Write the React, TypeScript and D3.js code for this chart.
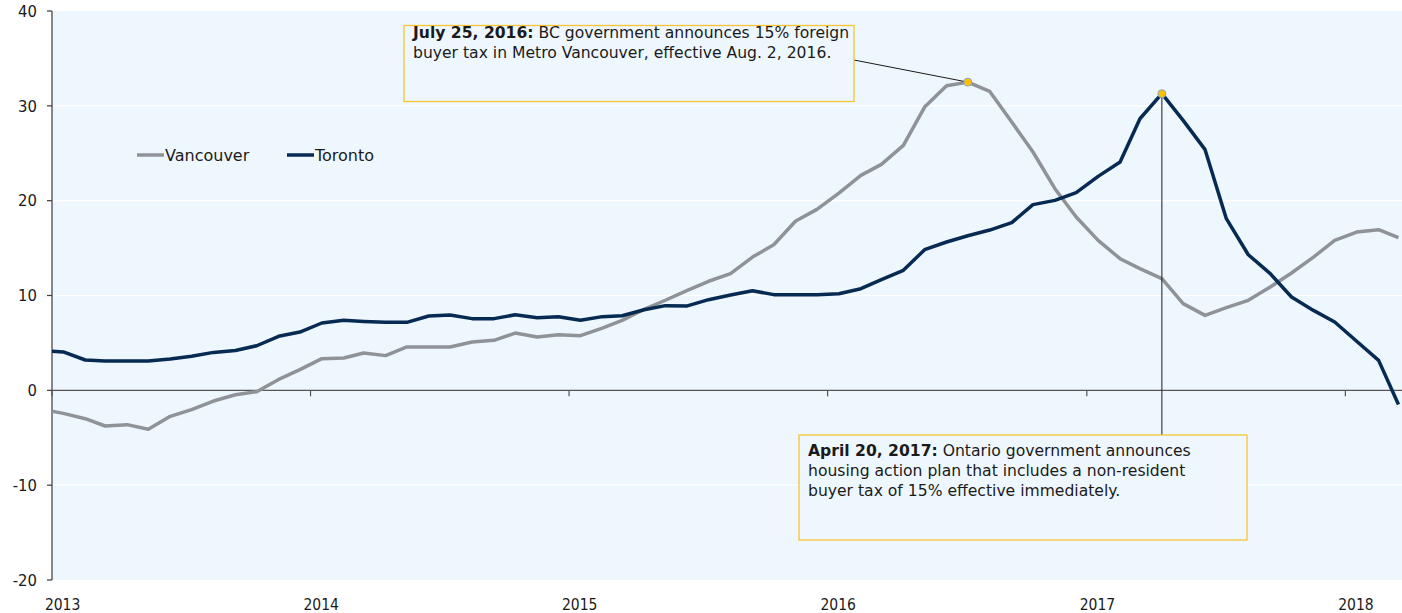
import React, { useRef, useEffect } from 'react';
import * as d3 from 'd3';

// monthly points, Dec 2012 .. Mar 2018 (placed mid-month)
const months = d3.timeMonths(new Date(2012, 11, 1), new Date(2018, 3, 1))
  .map(d => new Date(d.getFullYear(), d.getMonth(), 17));

const vancouver = [
  -2.0, -2.43, -2.99, -3.76, -3.62, -4.11, -2.74, -2.04, -1.13, -0.46, -0.14, 1.15, 2.18,
  3.34, 3.41, 3.94, 3.66, 4.57, 4.57, 4.57, 5.1, 5.27, 6.04, 5.62, 5.87,
  5.76, 6.57, 7.38, 8.55, 9.5, 10.55, 11.5, 12.3, 14.05, 15.35, 17.85, 19.08,
  20.8, 22.67, 23.83, 25.83, 29.87, 32.12, 32.5, 31.52, 28.29, 25.13, 21.26, 18.27,
  15.81, 13.88, 12.83, 11.78, 9.14, 7.9, 8.72, 9.49, 10.9, 12.37, 14.05, 15.81,
  16.69, 16.94, 16.1
];

const toronto = [
  4.2, 4.05, 3.2, 3.1, 3.1, 3.1, 3.3, 3.6, 4.0, 4.2, 4.7, 5.7, 6.15,
  7.1, 7.38, 7.27, 7.17, 7.17, 7.84, 7.94, 7.56, 7.56, 7.96, 7.66, 7.75,
  7.38, 7.77, 7.86, 8.5, 8.93, 8.9, 9.56, 10.05, 10.5, 10.09, 10.09, 10.09,
  10.19, 10.72, 11.67, 12.65, 14.83, 15.64, 16.3, 16.9, 17.68, 19.58, 20.03, 20.84,
  22.56, 24.07, 28.64, 31.28, 28.47, 25.38, 18.1, 14.3, 12.3, 9.84, 8.43, 7.2,
  5.17, 3.16, -1.5
];

const years = [2013, 2014, 2015, 2016, 2017, 2018];
const yTicks = [-20, -10, 0, 10, 20, 30, 40];

const note1 = ['July 25, 2016:', ' BC government announces 15% foreign', 'buyer tax in Metro Vancouver, effective Aug. 2, 2016.'];
const note2 = ['April 20, 2017:', ' Ontario government announces', 'housing action plan that includes a non-resident', 'buyer tax of 15% effective immediately.'];

const NUMFONT = '"DejaVu Sans Condensed", "DejaVu Sans", sans-serif';
const FONT = '"DejaVu Sans", sans-serif';

function Chart() {
  const canvas = useRef<SVGSVGElement>(null);

  useEffect(() => {
    const W = 1402, H = 613;
    const m = { top: 11, right: 0, bottom: 33, left: 52 };

    const svg = d3.select(canvas.current);
    svg.selectAll('*').remove();
    svg.attr('width', W).attr('height', H).style('font-family', FONT);

    const x = d3.scaleTime()
      .domain([new Date(2013, 0, 1), new Date(2018, 2, 22)])
      .range([m.left, W - m.right]);
    const y = d3.scaleLinear().domain([-20, 40]).range([H - m.bottom, m.top]);

    // plot background
    svg.append('rect')
      .attr('x', m.left).attr('y', m.top)
      .attr('width', W - m.right - m.left).attr('height', y(-20) - m.top)
      .attr('fill', '#eff7fe');

    svg.append('defs').append('clipPath').attr('id', 'plotclip')
      .append('rect')
      .attr('x', m.left).attr('y', m.top)
      .attr('width', W - m.right - m.left).attr('height', y(-20) - m.top);

    // white gridlines
    svg.append('g').selectAll('line')
      .data(yTicks.filter(t => t !== 0 && t !== 40 && t !== -20))
      .enter().append('line')
      .attr('x1', m.left).attr('x2', W - m.right)
      .attr('y1', d => y(d)).attr('y2', d => y(d))
      .attr('stroke', '#ffffff').attr('stroke-width', 1.2);

    // y axis
    const yAxis = svg.append('g');
    yAxis.append('line')
      .attr('x1', m.left).attr('x2', m.left)
      .attr('y1', y(40)).attr('y2', y(-20))
      .attr('stroke', '#3a3a3a').attr('stroke-width', 1.2);
    yAxis.selectAll('line.tick').data(yTicks).enter().append('line')
      .attr('class', 'tick')
      .attr('x1', m.left - 5).attr('x2', m.left)
      .attr('y1', d => y(d)).attr('y2', d => y(d))
      .attr('stroke', '#3a3a3a').attr('stroke-width', 1.2);
    yAxis.selectAll('text').data(yTicks).enter().append('text')
      .attr('x', m.left - 15).attr('y', d => y(d))
      .attr('dy', '0.35em')
      .attr('text-anchor', 'end')
      .attr('font-family', NUMFONT)
      .attr('font-size', 16.5)
      .attr('fill', '#1a1a1a')
      .text(d => d);

    // zero line with year ticks
    svg.append('line')
      .attr('x1', m.left).attr('x2', W - m.right)
      .attr('y1', y(0)).attr('y2', y(0))
      .attr('stroke', '#555555').attr('stroke-width', 1.2);
    svg.append('g').selectAll('line')
      .data(years)
      .enter().append('line')
      .attr('x1', d => x(new Date(d, 0, 1))).attr('x2', d => x(new Date(d, 0, 1)))
      .attr('y1', y(0)).attr('y2', y(0) + 6)
      .attr('stroke', '#555555').attr('stroke-width', 1.2);
    svg.append('g').selectAll('text')
      .data(years)
      .enter().append('text')
      .attr('x', d => x(new Date(d, 0, 16)))
      .attr('y', H - 3)
      .attr('text-anchor', 'middle')
      .attr('font-family', NUMFONT)
      .attr('font-size', 15.5)
      .attr('fill', '#1a1a1a')
      .text(d => d);

    // lines
    const line = d3.line<number>()
      .x((d, i) => x(months[i]))
      .y(d => y(d));

    const lines = svg.append('g').attr('clip-path', 'url(#plotclip)');
    lines.append('path')
      .attr('d', line(vancouver))
      .attr('fill', 'none').attr('stroke', '#8f9397')
      .attr('stroke-width', 3.5).attr('stroke-linejoin', 'round');
    lines.append('path')
      .attr('d', line(toronto))
      .attr('fill', 'none').attr('stroke', '#062a52')
      .attr('stroke-width', 3.5).attr('stroke-linejoin', 'round');

    // annotations
    const vi = vancouver.indexOf(d3.max(vancouver) as number);
    const ti = toronto.indexOf(d3.max(toronto) as number);
    const vx = x(months[vi]), vy = y(vancouver[vi]);
    const tx = x(months[ti]), ty = y(toronto[ti]);

    svg.append('line')
      .attr('x1', 854).attr('y1', 60).attr('x2', vx).attr('y2', vy)
      .attr('stroke', '#1a1a1a').attr('stroke-width', 1);
    svg.append('line')
      .attr('x1', tx).attr('y1', ty).attr('x2', tx).attr('y2', 435)
      .attr('stroke', '#1a1a1a').attr('stroke-width', 1);

    const box = (bx: number, by: number, bw: number, bh: number, lines: string[], firstBase: number) => {
      svg.append('rect')
        .attr('x', bx).attr('y', by).attr('width', bw).attr('height', bh)
        .attr('fill', '#eff7fe').attr('stroke', '#f7c433').attr('stroke-width', 1.3);
      const t = svg.append('text')
        .attr('x', bx + 9).attr('y', firstBase)
        .attr('font-size', 15.6).attr('fill', '#1a1a1a');
      t.append('tspan').attr('font-weight', 'bold').text(lines[0]);
      t.append('tspan').text(lines[1]);
      lines.slice(2).forEach((s, i) => {
        svg.append('text')
          .attr('x', bx + 9).attr('y', firstBase + 20 * (i + 1))
          .attr('font-size', 15.6).attr('fill', '#1a1a1a')
          .text(s);
      });
    };
    box(404, 25.5, 450, 76, note1, 38);
    box(799, 435, 448, 105, note2, 456);

    // peak markers
    svg.append('g').selectAll('circle')
      .data([[vx, vy], [tx, ty]])
      .enter().append('circle')
      .attr('cx', d => d[0]).attr('cy', d => d[1]).attr('r', 4)
      .attr('fill', '#ffc000').attr('stroke', '#8aa6c4').attr('stroke-width', 1);

    // legend
    const legend = [
      { name: 'Vancouver', color: '#8f9397', x: 137 },
      { name: 'Toronto', color: '#062a52', x: 287 },
    ];
    const lg = svg.append('g').selectAll('g').data(legend).enter().append('g');
    lg.append('line')
      .attr('x1', d => d.x).attr('x2', d => d.x + 27)
      .attr('y1', 155).attr('y2', 155)
      .attr('stroke', d => d.color).attr('stroke-width', 3.5);
    lg.append('text')
      .attr('x', d => d.x + 28).attr('y', 155).attr('dy', '0.35em')
      .attr('font-size', 16).attr('fill', '#1a1a1a')
      .text(d => d.name);
  }, []);

  return <svg ref={canvas} style={{ position: 'absolute', left: 0, top: 0 }} />;
}

export default function App() {
  return <Chart />;
}
